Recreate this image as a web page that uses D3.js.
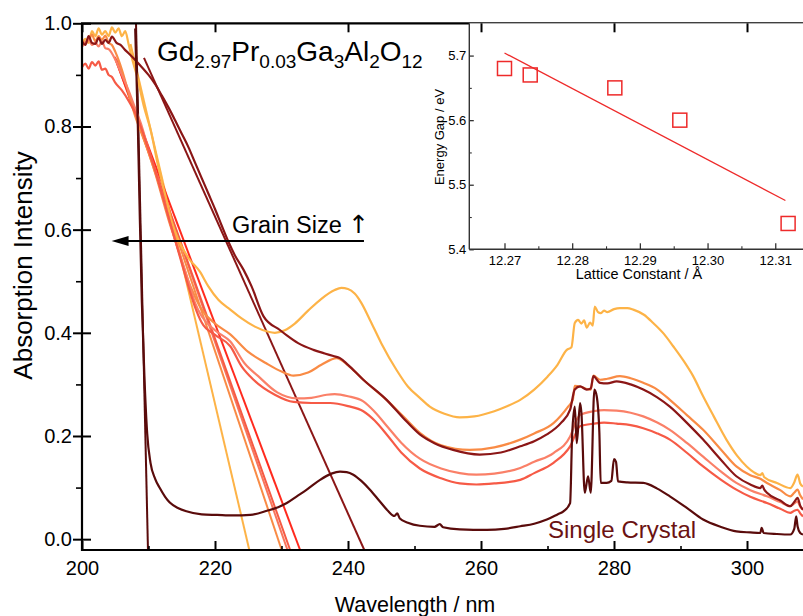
<!DOCTYPE html>
<html><head><meta charset="utf-8">
<script src="https://cdn.jsdelivr.net/npm/d3@7"></script>
<style>body{margin:0;background:#fff} svg{display:block} text{font-family:"Liberation Sans",Arial,Helvetica,sans-serif;fill:#000}</style>
</head><body><svg id="c" width="803" height="616"></svg>
<script>
// ---------------- data ----------------
const xTicks = [200,220,240,260,280,300];
const xMinor = [210,230,250,270,290];
const yTicks = [0,0.2,0.4,0.6,0.8,1.0];
const yMinor = [0.1,0.3,0.5,0.7,0.9];

const yellowCurve = [[200,0.955],[200.5,0.97],[201,0.962],[201.5,0.985],[202,0.975],[202.5,0.99],[203,0.978],[203.5,0.985],[204,0.975],[204.5,0.992],[205,0.982],[205.5,0.99],[206,0.975],[206.5,0.985],[207,0.96],[207.5,0.933],[208.3,0.896],[209.3,0.839],[210.3,0.794],[211.5,0.72],[212.7,0.658],[213.5,0.615],[214.5,0.58],[216,0.545],[217.7,0.519],[219,0.49],[220.5,0.464],[222.3,0.445],[224,0.428],[226,0.412],[228,0.402],[229,0.400],[230.5,0.405],[232,0.418],[234,0.443],[236,0.466],[238,0.483],[239,0.487],[240,0.485],[241,0.476],[242,0.458],[243.3,0.425],[245,0.38],[247.3,0.328],[249,0.296],[250.8,0.274],[252.3,0.257],[254.5,0.243],[256.8,0.236],[259,0.238],[262,0.248],[264,0.258],[265.9,0.27],[268,0.29],[270,0.315],[271.5,0.338],[272.9,0.367],[273.6,0.372],[274.1,0.419],[274.6,0.425],[275.1,0.418],[275.5,0.424],[275.9,0.41],[276.4,0.42],[276.8,0.414],[277.1,0.451],[277.6,0.44],[278,0.438],[278.5,0.443],[279,0.44],[280,0.446],[280.9,0.448],[282,0.448],[282.9,0.445],[284.5,0.435],[285.9,0.419],[287.5,0.398],[288.9,0.374],[290.5,0.345],[291.9,0.316],[293.4,0.277],[295,0.238],[296.9,0.193],[298.5,0.162],[299.95,0.141],[301,0.13],[302,0.124],[302.3,0.128],[302.6,0.12],[304.5,0.109],[306.5,0.099],[307.1,0.11],[307.6,0.125],[308,0.108],[308.42,0.102]];

const orangeCurve = [[200,0.97],[200.5,0.96],[201,0.968],[201.5,0.978],[202,0.965],[202.5,0.975],[203,0.968],[203.5,0.976],[204,0.962],[204.5,0.958],[205,0.945],[206,0.91],[207,0.865],[208,0.82],[209,0.785],[210,0.75],[211,0.71],[212,0.665],[213,0.62],[214,0.58],[215,0.54],[216,0.50],[217,0.47],[218,0.445],[220,0.418],[222.3,0.397],[225,0.363],[227.7,0.341],[230,0.325],[231.8,0.317],[234,0.323],[236,0.338],[238.3,0.351],[240,0.337],[242.3,0.309],[245.8,0.27],[248.3,0.238],[250.8,0.206],[254,0.182],[258.3,0.173],[262,0.178],[265.9,0.193],[268,0.205],[270.9,0.225],[273.1,0.257],[273.8,0.27],[274.1,0.297],[274.9,0.296],[275.9,0.291],[276.5,0.29],[276.9,0.317],[277.9,0.309],[279,0.311],[280.9,0.316],[282.5,0.312],[284.4,0.303],[286.5,0.29],[288.4,0.270],[291,0.24],[293.4,0.212],[296,0.175],[298.4,0.141],[300.5,0.124],[302,0.117],[303,0.109],[305,0.095],[306.5,0.083],[307.1,0.09],[307.6,0.096],[308,0.085],[308.42,0.077]];

const salmonCurve = [[200,0.955],[200.5,0.962],[201,0.97],[201.5,0.958],[202,0.963],[202.5,0.955],[203,0.965],[203.5,0.952],[204,0.95],[205,0.93],[206,0.9],[207,0.87],[208,0.835],[209,0.8],[210,0.755],[211,0.715],[212,0.67],[213,0.625],[214,0.58],[215,0.54],[216,0.5],[217,0.458],[218,0.432],[220,0.405],[222.3,0.383],[224.5,0.34],[226.5,0.316],[229.3,0.285],[232.3,0.273],[234.5,0.274],[236.8,0.28],[238,0.281],[240,0.277],[242.3,0.267],[244,0.247],[246,0.217],[248,0.187],[250.8,0.156],[254,0.137],[256.8,0.128],[259.3,0.125],[262,0.127],[265.9,0.138],[268,0.15],[270.9,0.167],[273.4,0.199],[274.4,0.232],[274.9,0.241],[276.9,0.248],[278.5,0.25],[280.4,0.249],[282.5,0.245],[284.4,0.238],[286.5,0.226],[288.4,0.212],[291,0.186],[293.4,0.160],[296,0.132],[298.4,0.109],[300.5,0.095],[303,0.083],[305,0.072],[306.5,0.064],[307.1,0.069],[307.6,0.073],[308,0.063],[308.42,0.057]];

const redCurve = [[200,0.915],[200.5,0.922],[201,0.912],[201.5,0.925],[202,0.918],[202.5,0.926],[203,0.91],[203.5,0.912],[204,0.9],[204.5,0.896],[205,0.885],[206,0.87],[207,0.85],[208,0.826],[209,0.794],[210,0.755],[211,0.715],[212,0.67],[213,0.625],[214,0.58],[215,0.535],[216,0.49],[217,0.45],[218,0.42],[220,0.396],[222.3,0.374],[224,0.335],[225.8,0.309],[229,0.28],[231.8,0.266],[234.5,0.264],[237.3,0.264],[240,0.258],[242.3,0.248],[244,0.23],[246,0.2],[248,0.168],[250.8,0.137],[254,0.118],[256.8,0.108],[259.3,0.106],[262,0.108],[265.9,0.115],[268,0.128],[270.9,0.148],[273.4,0.180],[274.9,0.219],[277,0.224],[278.5,0.226],[280.4,0.224],[282.5,0.221],[284.4,0.215],[286.5,0.205],[288.4,0.193],[291,0.167],[293.4,0.141],[296,0.116],[298.4,0.096],[300.5,0.082],[303,0.070],[305,0.059],[306.5,0.051],[307.1,0.055],[307.6,0.057],[308,0.05],[308.42,0.044]];

const darkRedCurve = [[200,0.965],[200.5,0.958],[201,0.975],[201.5,0.962],[202,0.96],[202.5,0.972],[203,0.96],[203.5,0.968],[204,0.962],[204.5,0.974],[205.2,0.962],[205.8,0.958],[206.5,0.948],[207,0.942],[208,0.929],[209,0.915],[210,0.90],[211,0.882],[212,0.86],[213,0.837],[214,0.812],[215,0.786],[216,0.76],[217,0.73],[218,0.70],[219,0.67],[220,0.64],[221,0.608],[222,0.577],[223,0.55],[224.3,0.522],[225.5,0.49],[227.3,0.432],[229.8,0.405],[230.8,0.395],[232.5,0.38],[234.8,0.367],[236.5,0.36],[237.8,0.355],[238.8,0.351],[240,0.338],[242.3,0.309],[245.8,0.27],[248.3,0.235],[250.8,0.203],[253,0.186],[255.8,0.173],[259.8,0.164],[263,0.168],[265.9,0.18],[268,0.19],[269.9,0.203],[272,0.225],[273.4,0.251],[274.1,0.29],[274.9,0.296],[275.9,0.29],[276.5,0.292],[276.9,0.316],[277.9,0.303],[279,0.302],[280.4,0.306],[282.5,0.3],[284.4,0.290],[286.5,0.275],[288.4,0.257],[291,0.225],[293.4,0.193],[296,0.155],[298.4,0.122],[300.5,0.106],[302,0.099],[302.3,0.104],[302.6,0.096],[303,0.090],[305,0.075],[306.5,0.064],[307.1,0.072],[307.6,0.080],[308,0.065],[308.42,0.057]];

const singleCrystalCurve = [[208.0,0.99],[208.4,0.8],[208.7,0.62],[209.0,0.46],[209.4,0.31],[209.8,0.205],[210.3,0.148],[211,0.117],[211.7,0.099],[212.5,0.082],[213.2,0.071],[214.5,0.06],[215.7,0.054],[218,0.048],[220.3,0.047],[222.75,0.046],[225.3,0.047],[227.8,0.055],[229.5,0.062],[230.8,0.07],[232.3,0.083],[233.8,0.096],[235.8,0.115],[237.5,0.127],[238.8,0.131],[239.8,0.13],[240.8,0.125],[242,0.113],[243.3,0.096],[244.8,0.073],[246,0.055],[247,0.045],[247.4,0.05],[247.8,0.04],[249,0.032],[250.8,0.026],[253,0.024],[253.8,0.029],[254.3,0.023],[256.8,0.019],[260.9,0.018],[263.5,0.02],[265.9,0.025],[268,0.03],[269.9,0.038],[271.5,0.048],[272.4,0.054],[273.4,0.07],[273.7,0.2],[274.1,0.257],[274.4,0.186],[274.9,0.264],[275.1,0.245],[275.6,0.09],[276.1,0.122],[276.5,0.09],[277.05,0.29],[277.4,0.277],[277.8,0.206],[278.0,0.109],[278.9,0.109],[279.6,0.113],[280.0,0.155],[280.3,0.15],[280.6,0.112],[282,0.11],[284.4,0.109],[286.5,0.098],[288.4,0.083],[291,0.06],[293.4,0.038],[296,0.024],[298.4,0.015],[300.5,0.013],[302,0.012],[302.2,0.022],[302.5,0.012],[304.5,0.01],[306.5,0.009],[307.1,0.02],[307.4,0.044],[307.6,0.025],[308,0.012],[308.42,0.009]];

// linear band-edge extrapolation lines: [start, end] in (nm, intensity)
const edgeLines = [
  {color:"#fdb347", pts:[[207.3,0.96],[225.16,-0.021]]},
  {color:"#f98b45", pts:[[205.4,0.926],[230.03,-0.021]]},
  {color:"#f8765c", pts:[[205.2,0.93],[230.9,-0.021]]},
  {color:"#f65a44", pts:[[205.0,0.933],[231.3,-0.021]]},
  {color:"#ff2a1e", pts:[[204.9,0.935],[232.8,-0.021]]},
  {color:"#8b1616", pts:[[209.32,0.933],[242.45,-0.021]]},
  {color:"#5a0b0b", pts:[[208.12,1.0],[209.92,-0.021]]}
];

const curves = [
  {name:"yellow", color:"#fdb347", data:yellowCurve},
  {name:"orange", color:"#f98b45", data:orangeCurve},
  {name:"salmon", color:"#fa8068", data:salmonCurve},
  {name:"red", color:"#f65a46", data:redCurve},
  {name:"darkred", color:"#8b1616", data:darkRedCurve},
  {name:"single", color:"#5a0b0b", data:singleCrystalCurve}
];

// inset
const latticeConst = [12.270,12.2738,12.2863,12.2959,12.3119];
const energyGap = [5.68,5.67,5.65,5.60,5.44];
const fitLine = [[12.270,5.704],[12.3115,5.4755]];
const insetXTicks = [12.27,12.28,12.29,12.30,12.31];
const insetXMinor = [12.275,12.285,12.295,12.305];
const insetYTicks = [5.4,5.5,5.6,5.7];
const insetYMinor = [5.45,5.55,5.65];

// arrow annotation (data coords)
const grainArrow = [[242.4,0.578],[204.45,0.578]];

// ---------------- drawing ----------------
const svg = d3.select("#c");
const L=82, R=803, T=23.3, B=550;
const x = d3.scaleLinear().domain([200,308.42]).range([L,R]);
const y = d3.scaleLinear().domain([-0.021,1.0]).range([B,T]);

svg.append("defs").append("clipPath").attr("id","clipMain")
  .append("rect").attr("x",L).attr("y",T).attr("width",R-L).attr("height",B-T);

const plot = svg.append("g").attr("clip-path","url(#clipMain)");
const line = d3.line().x(d=>x(d[0])).y(d=>y(d[1])).curve(d3.curveMonotoneX);
const straight = d3.line().x(d=>x(d[0])).y(d=>y(d[1]));

edgeLines.forEach(l=>{
  plot.append("path").attr("d",straight(l.pts)).attr("fill","none")
    .attr("stroke",l.color).attr("stroke-width",2);
});
curves.forEach(c=>{
  plot.append("path").attr("d",line(c.data)).attr("fill","none")
    .attr("stroke",c.color).attr("stroke-width",2.2).attr("stroke-linejoin","round");
});

// main axes
const axG = svg.append("g");
const ax = d3.axisBottom(x).tickValues(xTicks).tickSize(-9).tickPadding(11).tickFormat(d3.format("d"));
const gx = axG.append("g").attr("transform",`translate(0,${B})`).call(ax);
gx.select(".domain").remove();
gx.selectAll("text").attr("font-size",20);
gx.selectAll("line").attr("stroke-width",2);
const gxm = axG.append("g").attr("transform",`translate(0,${B})`).call(d3.axisBottom(x).tickValues(xMinor).tickSize(-4).tickFormat(""));
gxm.select(".domain").remove(); gxm.selectAll("line").attr("stroke-width",1.6);

const ay = d3.axisLeft(y).tickValues(yTicks).tickSize(9).tickPadding(1).tickFormat(d3.format(".1f"));
const gy = axG.append("g").attr("transform",`translate(${L},0)`).call(ay);
gy.select(".domain").remove();
gy.selectAll("text").attr("font-size",20);
gy.selectAll("line").attr("stroke-width",2);
const gyi = axG.append("g").attr("transform",`translate(${L},0)`).call(d3.axisLeft(y).tickValues(yTicks).tickSize(-9).tickFormat(""));
gyi.select(".domain").remove(); gyi.selectAll("line").attr("stroke-width",2);
const gym = axG.append("g").attr("transform",`translate(${L},0)`).call(d3.axisLeft(y).tickValues(yMinor).tickSize(6).tickFormat(""));
gym.select(".domain").remove(); gym.selectAll("line").attr("stroke-width",1.6);

axG.append("line").attr("x1",L).attr("x2",L).attr("y1",T).attr("y2",B+1).attr("stroke","#000").attr("stroke-width",2.2);
axG.append("line").attr("x1",L-1).attr("x2",R).attr("y1",B).attr("y2",B).attr("stroke","#000").attr("stroke-width",2.2);

// inset
const ix = d3.scaleLinear().domain([12.2648,12.3141]).range([469.3,R]);
const iy = d3.scaleLinear().domain([5.4,5.75]).range([249.3,T]);
const inset = svg.append("g");
inset.append("rect").attr("x",469.3).attr("y",T).attr("width",R-469.3).attr("height",249.3-T).attr("fill","#fff");
const igx = inset.append("g").attr("transform","translate(0,249.3)")
  .call(d3.axisBottom(ix).tickValues(insetXTicks).tickSize(-6).tickPadding(6).tickFormat(d3.format(".2f")));
igx.select(".domain").remove();
igx.selectAll("text").attr("font-size",13).attr("fill","#222");
igx.selectAll("line").attr("stroke","#333").attr("stroke-width",1.3);
const igxm = inset.append("g").attr("transform","translate(0,249.3)")
  .call(d3.axisBottom(ix).tickValues(insetXMinor).tickSize(-3).tickFormat(""));
igxm.select(".domain").remove(); igxm.selectAll("line").attr("stroke","#333").attr("stroke-width",1.1);
const igy = inset.append("g").attr("transform","translate(469.3,0)")
  .call(d3.axisLeft(iy).tickValues(insetYTicks).tickSize(-4.5).tickPadding(3).tickFormat(d3.format(".1f")));
igy.select(".domain").remove();
igy.selectAll("text").attr("font-size",13).attr("fill","#222");
igy.selectAll("line").attr("stroke","#333").attr("stroke-width",1.3);
const igym = inset.append("g").attr("transform","translate(469.3,0)")
  .call(d3.axisLeft(iy).tickValues(insetYMinor).tickSize(-2.5).tickFormat(""));
igym.select(".domain").remove(); igym.selectAll("line").attr("stroke","#333").attr("stroke-width",1.1);
inset.append("line").attr("x1",469.3).attr("x2",469.3).attr("y1",T).attr("y2",249.3).attr("stroke","#333").attr("stroke-width",1.4);
inset.append("line").attr("x1",469.3).attr("x2",R).attr("y1",249.3).attr("y2",249.3).attr("stroke","#333").attr("stroke-width",1.4);

const iline = d3.line().x(d=>ix(d[0])).y(d=>iy(d[1]));
inset.append("path").attr("d",iline(fitLine)).attr("stroke","#ee2a2a").attr("stroke-width",1.3).attr("fill","none");
inset.selectAll("rect.sq").data(latticeConst.map((v,i)=>[v,energyGap[i]])).join("rect")
  .attr("class","sq").attr("x",d=>ix(d[0])-7).attr("y",d=>iy(d[1])-7).attr("width",14).attr("height",14)
  .attr("fill","none").attr("stroke","#ee2a2a").attr("stroke-width",1.5);

inset.append("text").attr("x",639).attr("y",279).attr("text-anchor","middle").attr("font-size",14.5).attr("fill","#222")
  .text("Lattice Constant / Å");
inset.append("text").attr("transform","translate(444,137) rotate(-90)").attr("text-anchor","middle").attr("font-size",13).attr("fill","#222")
  .text("Energy Gap / eV");

// top axis (main) drawn above inset
axG.append("line").attr("x1",L-1).attr("x2",R).attr("y1",T).attr("y2",T).attr("stroke","#000").attr("stroke-width",2.2);
const gt = svg.append("g").attr("transform",`translate(0,${T})`).call(d3.axisTop(x).tickValues(xTicks).tickSize(-9).tickFormat(""));
gt.select(".domain").remove(); gt.selectAll("line").attr("stroke-width",2);

// annotations
const title = svg.append("text").attr("x",157).attr("y",61).attr("font-size",28);
[["Gd",false],["2.97",true],["Pr",false],["0.03",true],["Ga",false],["3",true],["Al",false],["2",true],["O",false],["12",true]]
 .forEach(([t,sub],i)=>{
   const ts = title.append("tspan").text(t);
   if(sub){ ts.attr("font-size",19).attr("dy",7); }
   else if(i>0){ ts.attr("dy",-7); }
 });

const gs = svg.append("text").attr("x",232).attr("y",232.5).attr("font-size",23.5);
gs.append("tspan").text("Grain Size ");
gs.append("tspan").attr("font-family","DejaVu Sans").attr("font-size",25).text("↑");
const ap = grainArrow.map(d=>[x(d[0]),y(d[1])]);
svg.append("line").attr("x1",ap[0][0]).attr("y1",ap[0][1]).attr("x2",ap[1][0]+14).attr("y2",ap[1][1])
  .attr("stroke","#000").attr("stroke-width",2.2);
svg.append("path").attr("d",`M${ap[1][0]},${ap[1][1]} L${ap[1][0]+17},${ap[1][1]-5} L${ap[1][0]+17},${ap[1][1]+5} Z`).attr("fill","#000");

svg.append("text").attr("x",548).attr("y",538).attr("font-size",24).style("fill","#6b1212").text("Single Crystal");

svg.append("text").attr("x",415).attr("y",612).attr("text-anchor","middle").attr("font-size",21.5).text("Wavelength / nm");
svg.append("text").attr("transform","translate(32,265.5) rotate(-90)").attr("text-anchor","middle").attr("font-size",26).text("Absorption Intensity");
</script></body></html>
